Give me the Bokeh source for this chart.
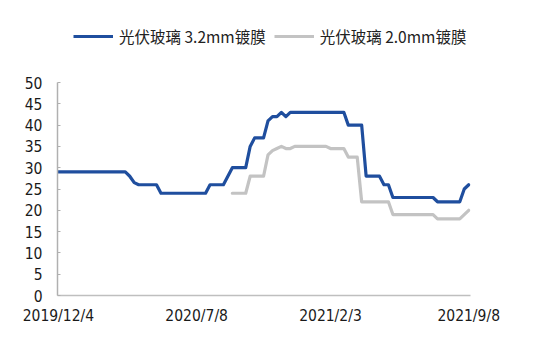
import pandas as pd
import numpy as np
from bokeh.plotting import figure
from bokeh.layouts import column
from bokeh.models import Range1d, FixedTicker, Legend, LegendItem, ColumnDataSource
from bokeh.embed import file_html
from bokeh.resources import INLINE

# weekly observation dates (category axis)
dates = [f"{d.year}/{d.month}/{d.day}" for d in pd.date_range("2019-12-04", periods=93, freq="7D")]

# 光伏玻璃 3.2mm镀膜 (元/平方米)
glass_32 = (
    [29] * 16 + [28, 26.5] + [26] * 5 + [24] * 11 + [26] * 4 + [28] + [30] * 4 + [35] + [37] * 3
    + [41, 42, 42, 43, 42, 43] + [43] * 12 + [40] * 4 + [28] * 4 + [26] * 2 + [23] * 10
    + [22] * 6 + [25, 26]
)
# 光伏玻璃 2.0mm镀膜 (元/平方米)
glass_20 = (
    [np.nan] * 39 + [24] * 4 + [28] * 4 + [33, 34, 34.5, 35, 34.5, 34.5] + [35] * 8
    + [34.5] * 4 + [32.5] * 3 + [22] * 7 + [19] * 10 + [18] * 6 + [19, 20]
)

tick_labels = ["2019/12/4", "2020/7/8", "2021/2/3", "2021/9/8"]
y_ticks = [0, 5, 10, 15, 20, 25, 30, 35, 40, 45, 50]
series_names = ["光伏玻璃 3.2mm镀膜", "光伏玻璃 2.0mm镀膜"]
series_colors = ["#1F4E9E", "#C3C3C3"]

idx = list(range(len(dates)))
src = ColumnDataSource(dict(x=idx, date=dates, a=glass_32, b=glass_20))

# ---- legend strip on top ----
leg = figure(width=558, height=70, output_backend="svg", toolbar_location=None,
             x_axis_type=None, y_axis_type=None, x_range=Range1d(0, 1), y_range=Range1d(0, 1),
             min_border_left=0, min_border_right=0, min_border_top=0, min_border_bottom=0)
leg.outline_line_color = None
leg.xgrid.visible = False
leg.ygrid.visible = False
placeholder = ColumnDataSource(dict(x=[np.nan], y=[np.nan]))
lr = [leg.line("x", "y", source=placeholder, line_color=c, line_width=3.2) for c in series_colors]
legend = Legend(items=[LegendItem(label=n, renderers=[r]) for n, r in zip(series_names, lr)],
                orientation="horizontal", location=(16, 23),
                glyph_width=40, glyph_height=20, label_standoff=6, spacing=8,
                padding=0, margin=0, border_line_alpha=0, background_fill_alpha=0,
                label_text_font="Noto Sans CJK SC", label_text_font_size="15.5px",
                label_text_color="#222222")
leg.add_layout(legend)

# ---- main chart ----
p = figure(width=558, height=283, output_backend="svg", toolbar_location=None,
           x_range=Range1d(-0.2, 92.4), y_range=Range1d(0, 50),
           min_border_left=57, min_border_right=88, min_border_top=12, min_border_bottom=58)
p.outline_line_color = None
p.xgrid.visible = False
p.ygrid.visible = False

p.line("x", "a", source=src, line_color=series_colors[0], line_width=3.2,
       line_join="round", line_cap="round")
p.line("x", "b", source=src, line_color=series_colors[1], line_width=3.2,
       line_join="round", line_cap="round")

axis_font = "DejaVu Sans Condensed"

ya = p.yaxis[0]
ya.ticker = FixedTicker(ticks=y_ticks)
ya.major_tick_in = 3
ya.major_tick_out = 0
ya.minor_tick_line_color = None
ya.axis_line_color = "#B0B0B0"
ya.axis_line_width = 1.5
ya.major_tick_line_color = "#B0B0B0"
ya.major_label_standoff = 15
ya.major_label_text_font = axis_font
ya.major_label_text_font_size = "15.5px"
ya.major_label_text_color = "#1a1a1a"

xa = p.xaxis[0]
tick_pos = [dates.index(t) for t in tick_labels]
xa.ticker = FixedTicker(ticks=tick_pos)
xa.major_label_overrides = {pos: lab for pos, lab in zip(tick_pos, tick_labels)}
xa.major_tick_in = 0
xa.major_tick_out = 0
xa.minor_tick_line_color = None
xa.axis_line_color = "#BFBFBF"
xa.axis_line_width = 1.5
xa.major_label_standoff = 11
xa.major_label_text_font = axis_font
xa.major_label_text_font_size = "15.5px"
xa.major_label_text_color = "#1a1a1a"

layout = column(leg, p, spacing=0)
open("out.html", "w").write(file_html(layout, INLINE))
